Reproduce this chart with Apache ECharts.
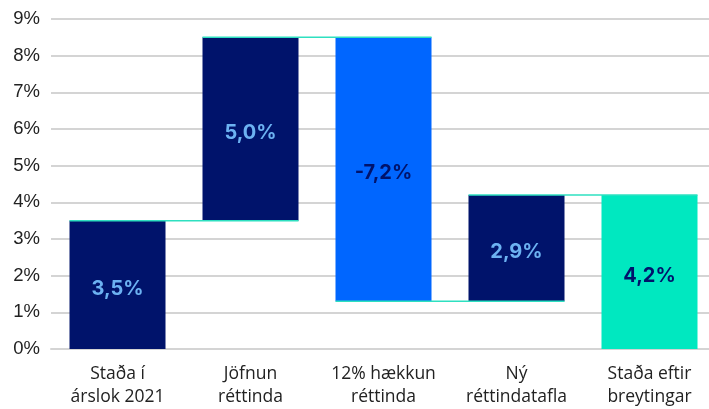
<!DOCTYPE html>
<html>
<head>
<meta charset="utf-8">
<script src="https://cdn.jsdelivr.net/npm/echarts@6/dist/echarts.min.js"></script>
<style>
  html, body { margin: 0; padding: 0; background: #fff; }
  #chart { width: 709px; height: 409px; }
</style>
</head>
<body>
<div id="chart"></div>
<script>
// flokkar og breytingar (%)
const categories = ['Staða í\nárslok 2021', 'Jöfnun\nréttinda', '12% hækkun\nréttinda', 'Ný\nréttindatafla', 'Staða eftir\nbreytingar'];
const changes = [3.5, 5.0, -7.2, 2.9, 4.2];
const isTotal = [true, false, false, false, true];
const barColors = ['#00136b', '#00136b', '#0066ff', '#00136b', '#00e8c0'];
const labelColors = ['#6cb2f2', '#6cb2f2', '#00136b', '#6cb2f2', '#00136b'];

// reikna grunn og hæð hverrar súlu
let base = [], height = [], level = [];
let run = 0;
changes.forEach((v, i) => {
    if (isTotal[i]) {
        base.push(0); height.push(v); run = v;
    } else {
        base.push(Math.min(run, run + v)); height.push(Math.abs(v)); run = run + v;
    }
    level.push(run);
});

// tengilínur milli súlna
let connectors = [];
for (let i = 0; i < level.length - 1; i++) connectors.push([i, level[i]]);

const fmt = v => v.toFixed(1).replace('.', ',') + '%';

let chart = echarts.init(document.getElementById('chart'));
chart.setOption({
    animation: false,
    grid: { left: 51, width: 665, top: 19, bottom: 60, containLabel: false, outerBoundsMode: 'none' },
    xAxis: {
        type: 'category',
        data: categories,
        axisLine: { show: true, lineStyle: { color: '#d4d4d4', width: 2 } },
        axisTick: { show: false },
        axisLabel: { interval: 0, color: '#222', fontSize: 17.5, lineHeight: 23, margin: 14, fontFamily: 'Open Sans', hideOverlap: false }
    },
    yAxis: {
        type: 'value',
        min: 0, max: 9, interval: 1,
        axisLabel: { formatter: '{value}%', color: '#222', fontSize: 18.5, margin: 11, fontFamily: 'Liberation Sans' },
        splitLine: { lineStyle: { color: '#d4d4d4', width: 2 } },
        axisLine: { show: false },
        axisTick: { show: false }
    },
    series: [
        {
            type: 'bar', stack: 'w', barWidth: 96,
            itemStyle: { color: 'transparent' },
            data: base
        },
        {
            type: 'bar', stack: 'w', barWidth: 96,
            data: height.map((h, i) => ({
                value: h,
                itemStyle: { color: barColors[i] },
                label: { color: labelColors[i] }
            })),
            label: {
                show: true, position: 'inside', offset: [0, 4],
                fontSize: 20, fontWeight: 'bold', fontFamily: 'Inter',
                formatter: p => fmt(changes[p.dataIndex])
            }
        },
        {
            type: 'custom',
            data: connectors,
            z: 5,
            renderItem: (params, api) => {
                let i = api.value(0), v = api.value(1);
                let a = api.coord([i, v]), b = api.coord([i + 1, v]);
                return {
                    type: 'line',
                    shape: { x1: a[0] - 48, y1: a[1], x2: b[0] + 48, y2: b[1] },
                    style: { stroke: '#2ee0c0', lineWidth: 1.5 }
                };
            }
        }
    ]
});
</script>
</body>
</html>
